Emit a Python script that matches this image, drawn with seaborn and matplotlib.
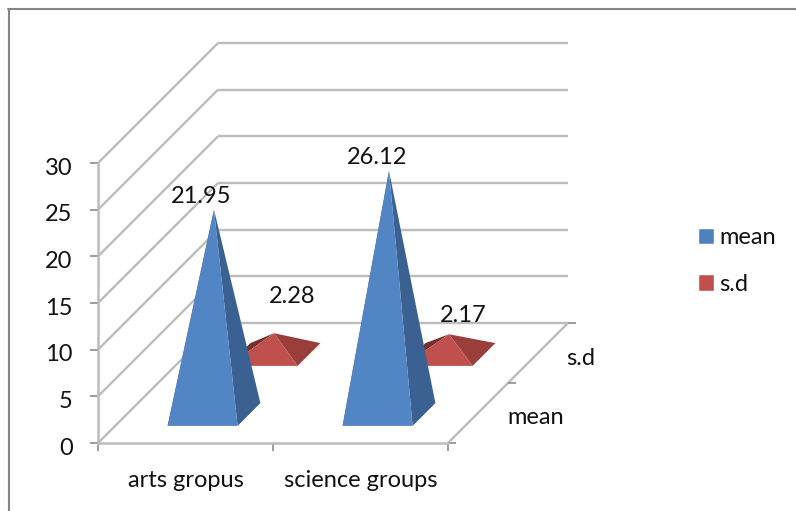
import matplotlib
matplotlib.use("Agg")
import matplotlib.pyplot as plt
import seaborn as sns
from matplotlib.lines import Line2D
from matplotlib.patches import Patch, Polygon
from matplotlib.transforms import ScaledTranslation

categories = ["arts gropus", "science groups"]
series_names = ["mean", "s.d"]
mean_values = [21.95, 26.12]
sd_values = [2.28, 2.17]
value_ticks = [0, 5, 10, 15, 20, 25, 30]

sns.set_style("white")
plt.rcParams["font.family"] = ["Lato", "DejaVu Sans"]
FS = 17.0
W, H = 796, 511
fig = plt.figure(figsize=(W / 100, H / 100), dpi=100, facecolor="white")
ax = fig.add_axes([98 / W, (H - 443) / H, 350 / W, 280 / H])
ax.set_xlim(0, 2)
ax.set_ylim(0, 30)
ax.patch.set_alpha(0)

GRID = "#bcbcbc"
TICK = "#8c8c8c"
TEXT = "#111111"
px_x = 175.0          # pixels per category
px_y = 280 / 30       # pixels per value unit
step = 60.0           # pixels of oblique shift per series row


def project(cat, depth, value):
    """Oblique projection of (category, row depth, value) into axis data."""
    return cat + depth * step / px_x, value + depth * step / px_y


def line3d(p, q, color=GRID, lw=1.7, z=1):
    a, b = project(*p), project(*q)
    ax.plot([a[0], b[0]], [a[1], b[1]], color=color, lw=lw, clip_on=False, zorder=z,
            solid_capstyle="butt")


# walls and floor
for v in value_ticks:
    line3d((0, 0, v), (0, 2, v))
    line3d((0, 2, v), (2, 2, v))
line3d((2, 0, 0), (2, 2, 0))
# depth ticks
for d in range(3):
    line3d((2, d, 0), (2 + 8 / px_x, d, 0), color=TICK, lw=1.2, z=2)
name_offsets = [(58, -4), (43, -5)]
for d, name in enumerate(series_names):
    ax.annotate(name, xy=project(2, d + 0.5, 0), xytext=name_offsets[d],
                textcoords="offset pixels", ha="center", va="center",
                fontsize=FS, color=TEXT, annotation_clip=False)

HW, HD = 0.2, 0.19
legend_blue, legend_red = sns.color_palette(["#4F81BD", "#C0504D"])
blue, blue_dark = sns.color_palette(["#5285C4", "#3A6191"])
red, red_side, red_left = sns.color_palette(["#C0504D", "#9A3E3B", "#75302D"])
rows = [(sd_values, 1.475, red, red_side, red_left), (mean_values, 0.475, blue, blue_dark, blue_dark)]
for vals, depth, front, side, left in rows:
    for i, v in enumerate(vals):
        c = i + 0.5
        FL = project(c - HW, depth - HD, 0)
        FR = project(c + HW, depth - HD, 0)
        BR = project(c + HW, depth + HD, 0)
        BL = project(c - HW, depth + HD, 0)
        AP = project(c, depth, v)
        for pts, col in (((BL, FL, AP), left), ((FR, BR, AP), side), ((FL, FR, AP), front)):
            ax.add_patch(Polygon(pts, closed=True, facecolor=col, edgecolor="none",
                                 clip_on=False, zorder=3 + (depth < 1)))

# value labels
offsets = {(0, 0): (-13, 13), (0, 1): (-12, 13), (1, 0): (18, 37), (1, 1): (14, 19)}
for r, (vals, depth) in enumerate(((mean_values, 0.475), (sd_values, 1.475))):
    for i, v in enumerate(vals):
        ax.annotate(f"{v:.2f}", xy=project(i + 0.5, depth, v), xytext=offsets[(r, i)],
                    textcoords="offset pixels", ha="center", va="center",
                    fontsize=FS, color=TEXT, zorder=6, annotation_clip=False)

# real axes
ax.set_yticks(value_ticks)
ax.set_xticks([0.5, 1.5], categories)
ax.set_xticks([0, 1, 2], minor=True)
ax.tick_params(axis="y", left=True, length=5.8, width=1.2, color=TICK, pad=12.5, labelsize=FS,
               labelcolor=TEXT)
ax.tick_params(axis="x", which="major", bottom=False, pad=16, labelsize=FS, labelcolor=TEXT)
ax.tick_params(axis="x", which="minor", bottom=True, length=5.5, width=1.2, color=TICK)
shift = ScaledTranslation(0, -3 / 100, fig.dpi_scale_trans)
for lab in ax.get_yticklabels():
    lab.set_transform(lab.get_transform() + shift)
sns.despine(ax=ax, top=True, right=True)
for s in ("left", "bottom"):
    ax.spines[s].set_color(GRID)
    ax.spines[s].set_linewidth(1.8)

fig.legend(handles=[Patch(facecolor=legend_blue, label=series_names[0]),
                    Patch(facecolor=legend_red, label=series_names[1])],
           loc="center left", bbox_to_anchor=(679 / W, 1 - 261 / H), frameon=False,
           fontsize=FS, handlelength=0.7, handleheight=0.7, handletextpad=0.22,
           labelspacing=1.08, borderpad=0.3, labelcolor=TEXT)

# chart frame
fig.add_artist(Line2D([8.5 / W, 8.5 / W], [0, 1 - 9 / H], color="#868686", lw=1.5))
fig.add_artist(Line2D([8 / W, 1], [1 - 9 / H, 1 - 9 / H], color="#868686", lw=1.5))

fig.savefig("out.png", dpi=100)
